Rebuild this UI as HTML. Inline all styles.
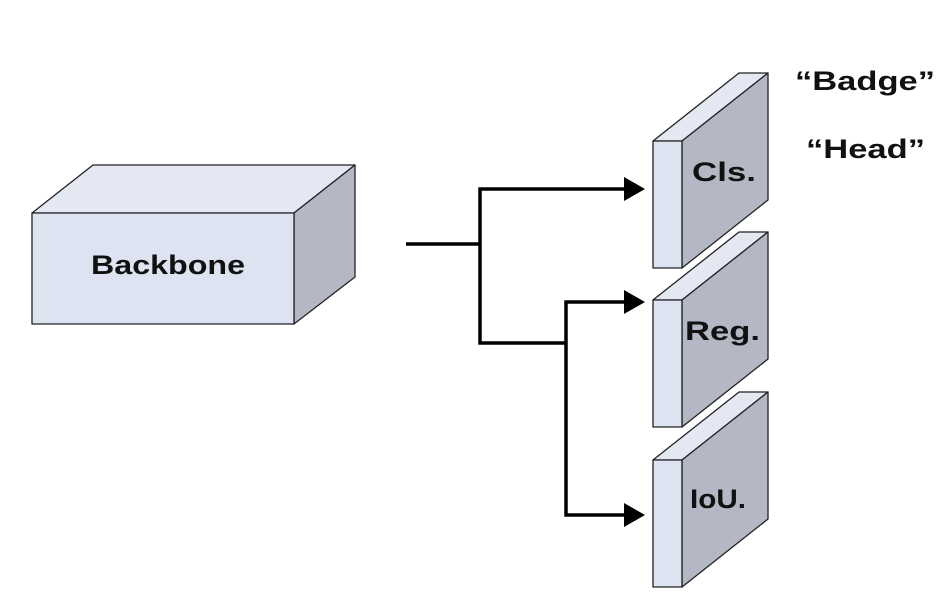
<!DOCTYPE html>
<html><head><meta charset="utf-8"><style>body{margin:0;background:#fff}svg{display:block}</style></head>
<body>
<svg width="950" height="600" viewBox="0 0 950 600" font-family="Liberation Sans, sans-serif" font-weight="bold">
<g stroke="#222" stroke-width="1.3" stroke-linejoin="round">
<polygon points="32,213 93,165 355,165 294,213" fill="#e3e8f3"/>
<polygon points="294,213 355,165 355,277 294,324" fill="#b3b8c4"/>
<rect x="32" y="213" width="262" height="111" fill="#dde3f0"/>
<g id="b1">
<polygon points="653,141 739,73 768,73 682,141" fill="#e3e8f3"/>
<polygon points="682,141 768,73 768,200 682,268" fill="#b3b8c4"/>
<rect x="653" y="141" width="29" height="127" fill="#dde3f0"/>
</g>
<use href="#b1" y="159"/>
<use href="#b1" y="319"/>
</g>
<g stroke="#000" stroke-width="3.5" fill="none">
<path d="M406,244 H480"/>
<path d="M626,189 H480 V343 H566"/>
<path d="M626,302 H566 V515 H626"/>
</g>
<g fill="#000">
<polygon points="624,177 645,189 624,201"/>
<polygon points="624,290 645,302 624,314"/>
<polygon points="624,503 645,515 624,527"/>
</g>
<g font-size="27" fill="#111" lengthAdjust="spacingAndGlyphs">
<text x="91" y="274" textLength="154" lengthAdjust="spacingAndGlyphs">Backbone</text>
<text x="692" y="181" textLength="64" lengthAdjust="spacingAndGlyphs">Cls.</text>
<text x="685" y="340" textLength="75" lengthAdjust="spacingAndGlyphs">Reg.</text>
<text x="690" y="508" textLength="56" lengthAdjust="spacingAndGlyphs">IoU.</text>
<text x="795" y="90" textLength="140" lengthAdjust="spacingAndGlyphs">“Badge”</text>
<text x="806" y="158" textLength="119" lengthAdjust="spacingAndGlyphs">“Head”</text>
</g>
</svg>
</body></html>
